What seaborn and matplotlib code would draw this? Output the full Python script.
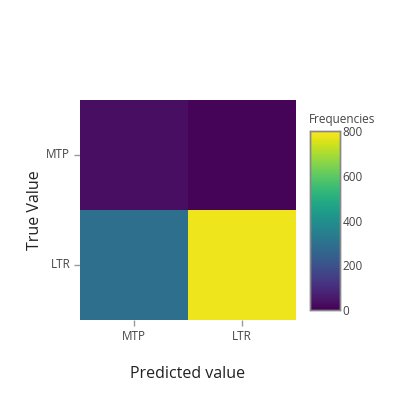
import matplotlib
matplotlib.use("Agg")
import matplotlib.pyplot as plt
import seaborn as sns
import pandas as pd

# Confusion matrix values (rows: true, cols: predicted)
labels = ["MTP", "LTR"]
row_mtp = [30, 8]
row_ltr = [290, 780]

df = pd.DataFrame([row_mtp, row_ltr], index=labels, columns=labels)

sns.set_style("white")
plt.rcParams["font.family"] = ["Open Sans", "DejaVu Sans"]
TXT = "#444444"

fig = plt.figure(figsize=(4, 4), dpi=100)
ax = fig.add_axes([0.2, 0.2, 0.54, 0.55])
cax = fig.add_axes([0.775, 0.225, 0.075, 0.4475])

sns.heatmap(df, ax=ax, cbar_ax=cax, cmap="viridis", vmin=0, vmax=800)

ax.tick_params(axis="both", bottom=True, left=True, length=4, width=1,
               color="#999999", labelsize=8.5, labelcolor=TXT, pad=3)
ax.tick_params(axis="y", rotation=0)
ax.set_xlabel("Predicted value", fontsize=11.5, color="#222222", labelpad=17)
ax.set_ylabel("True Value", fontsize=11.5, color="#222222", labelpad=2)

cax.set_yticks([0, 200, 400, 600, 800])
cax.tick_params(length=0, labelsize=8.5, labelcolor=TXT, pad=2)
for s in cax.spines.values():
    s.set_visible(True)
    s.set_color("#888888")
    s.set_linewidth(1)
cax.set_title("Frequencies", fontsize=8.5, color=TXT, loc="left", pad=6,
              x=-0.05)

fig.savefig("out.png", dpi=100)
